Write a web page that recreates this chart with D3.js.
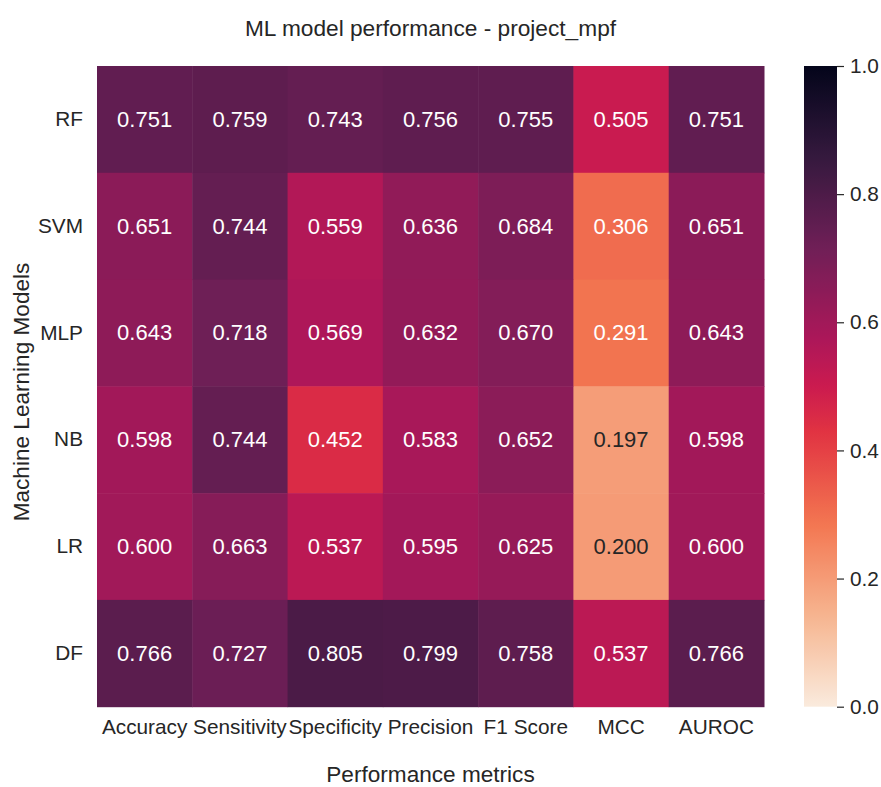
<!DOCTYPE html>
<html>
<head>
<meta charset="utf-8">
<script src="https://cdn.jsdelivr.net/npm/d3@7"></script>
<style>
  html, body { margin: 0; padding: 0; background: #ffffff; }
  svg { display: block; font-family: "Liberation Sans", Arial, Helvetica, sans-serif; }
</style>
</head>
<body>
<svg id="chart" width="881" height="787"></svg>
<script>
// Metrics (columns) and models (rows)
const metrics = ["Accuracy", "Sensitivity", "Specificity", "Precision", "F1 Score", "MCC", "AUROC"];
const models = ["RF", "SVM", "MLP", "NB", "LR", "DF"];

// One array of scores per model, in metric order
const rfScores  = [0.751, 0.759, 0.743, 0.756, 0.755, 0.505, 0.751];
const svmScores = [0.651, 0.744, 0.559, 0.636, 0.684, 0.306, 0.651];
const mlpScores = [0.643, 0.718, 0.569, 0.632, 0.670, 0.291, 0.643];
const nbScores  = [0.598, 0.744, 0.452, 0.583, 0.652, 0.197, 0.598];
const lrScores  = [0.600, 0.663, 0.537, 0.595, 0.625, 0.200, 0.600];
const dfScores  = [0.766, 0.727, 0.805, 0.799, 0.758, 0.537, 0.766];
const scoreRows = [rfScores, svmScores, mlpScores, nbScores, lrScores, dfScores];

const colorbarTicks = [0.0, 0.2, 0.4, 0.6, 0.8, 1.0];

const titleText = "ML model performance - project_mpf";
const xAxisTitle = "Performance metrics";
const yAxisTitle = "Machine Learning Models";

// Reversed "rocket" colour ramp: light cream at 0, near-black at 1
const rocketStops = [
  [0.000, "#03051a"], [1/7, "#35193e"], [2/7, "#701f57"], [3/7, "#ad1759"],
  [0.500, "#cb1b4f"], [4/7, "#e13342"], [5/7, "#f37651"], [6/7, "#f6b48f"],
  [1.000, "#faebdd"]
];
const rocket = d3.scaleLinear()
  .domain(rocketStops.map(d => d[0]))
  .range(rocketStops.map(d => d[1]))
  .interpolate(d3.interpolateRgb)
  .clamp(true);
const color = v => rocket(1 - v);

// Relative luminance decides light or dark annotation text
function luminance(c) {
  const rgb = d3.rgb(c);
  const lin = x => { x /= 255; return x <= 0.03928 ? x / 12.92 : Math.pow((x + 0.055) / 1.055, 2.4); };
  return 0.2126 * lin(rgb.r) + 0.7152 * lin(rgb.g) + 0.0722 * lin(rgb.b);
}

const svg = d3.select("#chart");
const plot = { left: 97, top: 66, right: 764, bottom: 706.7 };

const x = d3.scaleBand().domain(metrics).range([plot.left, plot.right]);
const y = d3.scaleBand().domain(models).range([plot.top, plot.bottom]);

const cells = [];
models.forEach((m, i) => metrics.forEach((k, j) => cells.push({ model: m, metric: k, value: scoreRows[i][j] })));

// Heatmap cells
svg.append("g")
  .selectAll("rect")
  .data(cells)
  .join("rect")
  .attr("x", d => x(d.metric))
  .attr("y", d => y(d.model))
  .attr("width", x.bandwidth() + 0.5)
  .attr("height", y.bandwidth() + 0.5)
  .attr("fill", d => color(d.value));

// Value annotations
svg.append("g")
  .selectAll("text")
  .data(cells)
  .join("text")
  .attr("x", d => x(d.metric) + x.bandwidth() / 2)
  .attr("y", d => y(d.model) + y.bandwidth() / 2)
  .attr("text-anchor", "middle")
  .attr("dominant-baseline", "central")
  .attr("font-size", 22)
  .attr("fill", d => luminance(color(d.value)) > 0.408 ? "#262626" : "#ffffff")
  .text(d => d3.format(".3f")(d.value));

// Axes without tick marks or domain lines
const xAxis = svg.append("g")
  .attr("transform", `translate(0,${plot.bottom})`)
  .call(d3.axisBottom(x).tickSize(0).tickPadding(0));
xAxis.select(".domain").remove();
xAxis.selectAll("text")
  .attr("y", 27.5)
  .attr("dy", null)
  .attr("font-size", 20.8)
  .attr("font-family", null)
  .attr("fill", "#262626");

const yAxis = svg.append("g")
  .attr("transform", `translate(${plot.left},0)`)
  .call(d3.axisLeft(y).tickSize(0).tickPadding(14));
yAxis.select(".domain").remove();
yAxis.selectAll("text")
  .attr("font-size", 20.8)
  .attr("font-family", null)
  .attr("fill", "#262626");

// Titles
svg.append("text")
  .attr("x", (plot.left + plot.right) / 2)
  .attr("y", 36)
  .attr("text-anchor", "middle")
  .attr("font-size", 22.7)
  .attr("fill", "#262626")
  .text(titleText);

svg.append("text")
  .attr("x", (plot.left + plot.right) / 2)
  .attr("y", 782)
  .attr("text-anchor", "middle")
  .attr("font-size", 22.6)
  .attr("fill", "#262626")
  .text(xAxisTitle);

svg.append("text")
  .attr("transform", `translate(29,392) rotate(-90)`)
  .attr("text-anchor", "middle")
  .attr("font-size", 22.6)
  .attr("fill", "#262626")
  .text(yAxisTitle);

// Colour bar
const cb = { left: 804, width: 33 };
const cbScale = d3.scaleLinear().domain([0, 1]).range([plot.bottom, plot.top]);

const grad = svg.append("defs").append("linearGradient")
  .attr("id", "cbGrad")
  .attr("x1", 0).attr("y1", 1).attr("x2", 0).attr("y2", 0);
grad.selectAll("stop")
  .data(d3.range(0, 1.0001, 0.01))
  .join("stop")
  .attr("offset", d => d)
  .attr("stop-color", d => color(d));

svg.append("rect")
  .attr("x", cb.left)
  .attr("y", plot.top)
  .attr("width", cb.width)
  .attr("height", plot.bottom - plot.top)
  .attr("fill", "url(#cbGrad)");

const cbAxis = svg.append("g")
  .attr("transform", `translate(${cb.left + cb.width},0)`)
  .call(d3.axisRight(cbScale).tickValues(colorbarTicks).tickFormat(d3.format(".1f")).tickSize(7).tickPadding(6));
cbAxis.select(".domain").remove();
cbAxis.selectAll("line").attr("stroke", "#262626").attr("stroke-width", 1.2);
cbAxis.selectAll("text")
  .attr("font-size", 20.8)
  .attr("font-family", null)
  .attr("fill", "#262626");
</script>
</body>
</html>
